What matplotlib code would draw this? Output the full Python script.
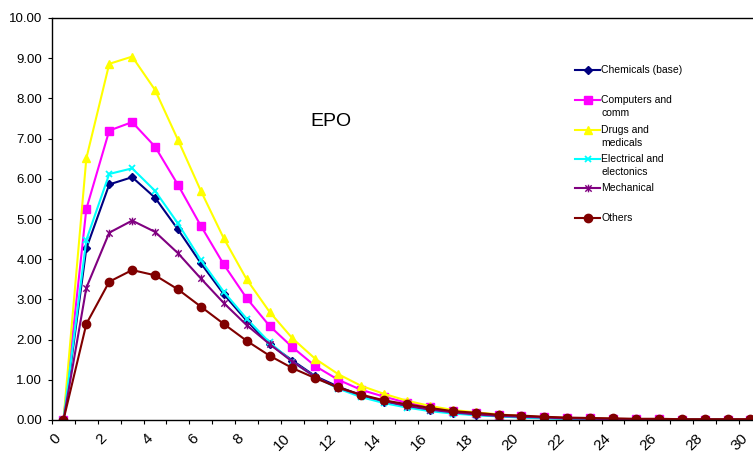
import numpy as np
import matplotlib
matplotlib.use('Agg')
import matplotlib.pyplot as plt
from matplotlib.lines import Line2D
from matplotlib.path import Path

plt.rcParams['font.family'] = ['Liberation Sans', 'DejaVu Sans']

# years after filing (categories) and share values per field
years = list(range(31))
chemicals = [0, 4.27, 5.86, 6.04, 5.53, 4.74, 3.90, 3.13, 2.47, 1.89, 1.48, 1.09, 0.83, 0.61, 0.46, 0.34,
             0.25, 0.18, 0.13, 0.10, 0.07, 0.05, 0.04, 0.03, 0.02, 0.02, 0.01, 0.01, 0.01, 0.01, 0.01]
computers = [0, 5.25, 7.20, 7.41, 6.80, 5.85, 4.83, 3.87, 3.03, 2.34, 1.81, 1.34, 1.00, 0.75, 0.58, 0.43,
             0.32, 0.22, 0.17, 0.13, 0.10, 0.07, 0.05, 0.04, 0.03, 0.02, 0.02, 0.01, 0.01, 0.01, 0.01]
drugs = [0, 6.51, 8.86, 9.04, 8.21, 6.97, 5.70, 4.52, 3.50, 2.69, 2.03, 1.52, 1.14, 0.85, 0.65, 0.48,
         0.35, 0.25, 0.19, 0.14, 0.10, 0.07, 0.05, 0.04, 0.03, 0.02, 0.02, 0.01, 0.01, 0.01, 0.01]
electrical = [0, 4.48, 6.12, 6.26, 5.70, 4.89, 3.98, 3.19, 2.52, 1.93, 1.45, 1.07, 0.78, 0.57, 0.42, 0.31,
              0.22, 0.16, 0.12, 0.09, 0.06, 0.04, 0.03, 0.02, 0.02, 0.01, 0.01, 0.01, 0.01, 0.01, 0.00]
mechanical = [0, 3.29, 4.66, 4.96, 4.68, 4.15, 3.52, 2.91, 2.36, 1.89, 1.45, 1.07, 0.80, 0.62, 0.47, 0.35,
              0.26, 0.19, 0.14, 0.10, 0.08, 0.06, 0.04, 0.03, 0.02, 0.02, 0.02, 0.01, 0.01, 0.01, 0.01]
others = [0, 2.39, 3.44, 3.73, 3.60, 3.25, 2.82, 2.39, 1.97, 1.60, 1.29, 1.04, 0.81, 0.63, 0.49, 0.39,
          0.30, 0.22, 0.18, 0.13, 0.11, 0.08, 0.06, 0.05, 0.04, 0.03, 0.03, 0.02, 0.02, 0.02, 0.02]

labels = ['Chemicals (base)', 'Computers and\ncomm', 'Drugs and\nmedicals',
          'Electrical and\nelectonics', 'Mechanical', 'Others']

# excel style star: x with a vertical bar
star = Path([(-1, -1), (1, 1), (-1, 1), (1, -1), (0, -1.2), (0, 1.2)],
            [Path.MOVETO, Path.LINETO, Path.MOVETO, Path.LINETO, Path.MOVETO, Path.LINETO])

styles = [
    dict(color='#000080', marker='D', ms=4.5),
    dict(color='#FF00FF', marker='s', ms=5.5),
    dict(color='#FFFF00', marker='^', ms=6),
    dict(color='#00FFFF', marker='x', ms=5, mew=1.3),
    dict(color='#800080', marker=star, ms=5.5, mew=1.0),
    dict(color='#800000', marker='o', ms=6),
]
series = [chemicals, computers, drugs, electrical, mechanical, others]

W, H = 753, 458
fig = plt.figure(figsize=(W / 100, H / 100), dpi=100)
x0, x1 = 52, 52 + 31 * 22.9
ax = fig.add_axes([x0 / W, 1 - 420 / H, (x1 - x0) / W, (420 - 18) / H])

for vals, st in zip(series, styles):
    ax.plot(years, vals, lw=1.5, **st)

ax.set_xlim(-0.5, 30.5)
ax.set_ylim(0, 10)
ax.set_yticks(np.arange(0, 11, 1))
ax.set_yticklabels(['%.2f' % v for v in np.arange(0, 11, 1)], fontsize=9.5)
ax.set_xticks(np.arange(-0.5, 31, 1))
ax.set_xticklabels([])
# rotated labels end a little left of their category, as Excel draws them
lab_pos = np.array(years[::2]) - 0.42
ax.set_xticks(lab_pos, minor=True)
ax.set_xticklabels([str(v) for v in years[::2]], minor=True, fontsize=11,
                   rotation=45, ha='right', va='top', rotation_mode='anchor')
ax.tick_params(axis='both', which='major', direction='out', length=3, width=0.8)
ax.tick_params(axis='x', which='minor', length=0, pad=8)
ax.tick_params(axis='y', pad=4)
ax.spines['right'].set_visible(False)
for s in ['left', 'top', 'bottom']:
    ax.spines[s].set_linewidth(1.0)

fig.text(331 / W, 1 - 121 / H, 'EPO', fontsize=14, ha='center', va='center')

# legend drawn by hand, Excel wraps some entries onto two lines
rows = [70, 100, 130, 159, 188, 218]
for lab, st, yr in zip(labels, styles, rows):
    yf = 1 - yr / H
    ln = Line2D([575 / W, 600 / W], [yf, yf], transform=fig.transFigure, lw=1.5,
                color=st['color'])
    fig.add_artist(ln)
    mk = Line2D([587.5 / W], [yf], transform=fig.transFigure, lw=0, color=st['color'],
                marker=st['marker'], ms=st['ms'], mew=st.get('mew', 1.0))
    fig.add_artist(mk)
    fig.text(601 / W, yf + 5 / H, lab, fontsize=7.5, ha='left', va='top', linespacing=1.4)

fig.savefig('out.png', dpi=100)
